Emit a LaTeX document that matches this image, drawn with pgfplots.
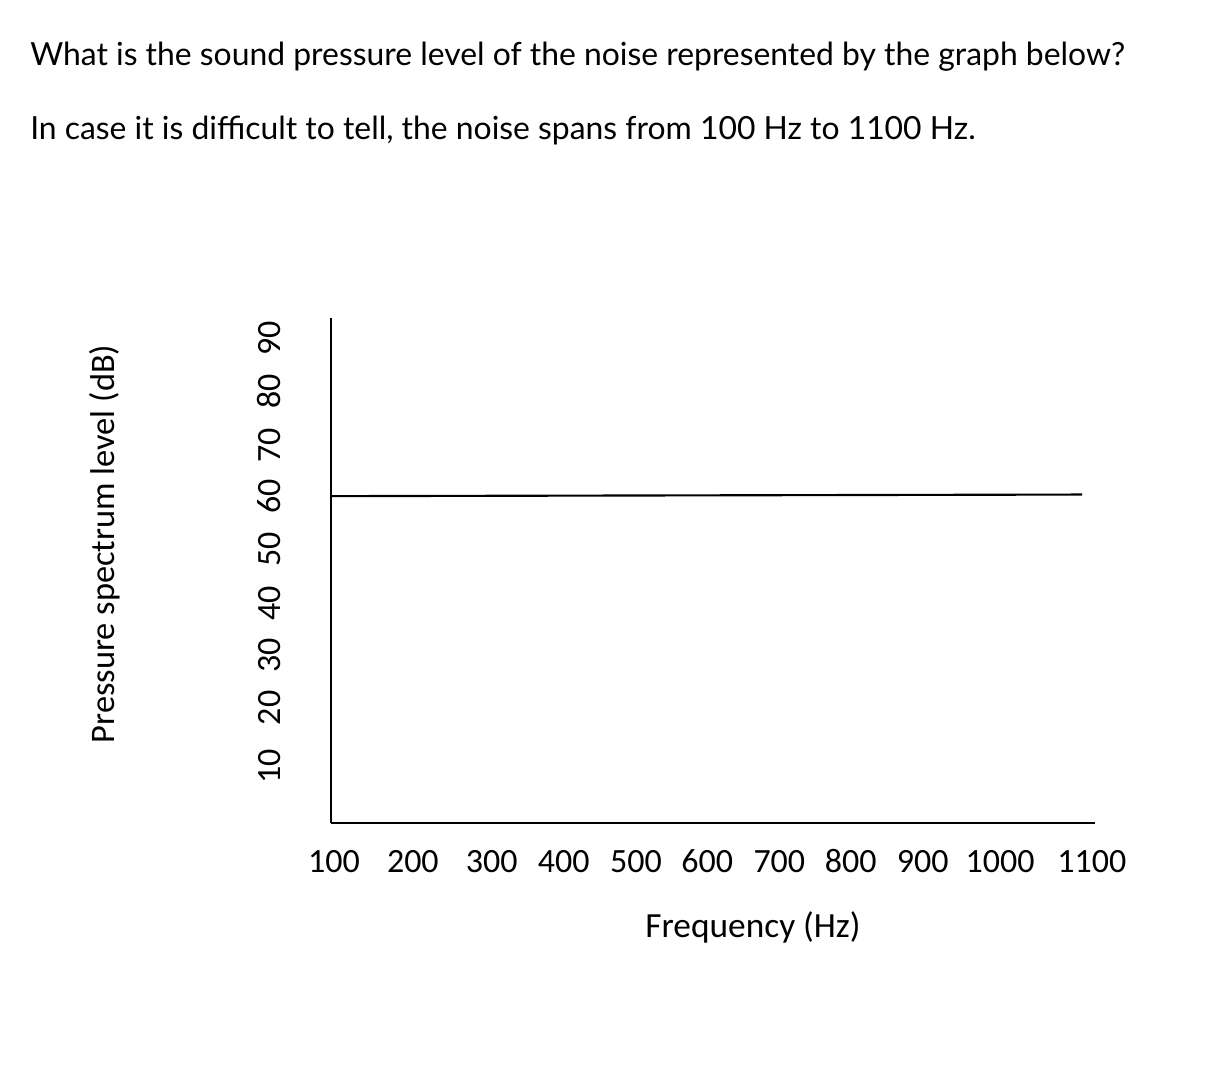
\documentclass[border=0pt]{standalone}
\usepackage{pgfplots}
\pgfplotsset{compat=1.18}
\usepackage{fontspec}
\setmainfont{Carlito}
\newfontfamily\latofont{Lato}
\begin{document}
\begin{tikzpicture}[x=0.75pt,y=-0.75pt]
\path[use as bounding box] (0,0) rectangle (1218,1070);
\node[anchor=base west,inner sep=0pt,font=\latofont\fontsize{23.9pt}{28pt}\selectfont] at (30,66) {What is the sound pressure level of the noise represented by the graph below?};
\node[anchor=base west,inner sep=0pt,font=\latofont\fontsize{23.9pt}{28pt}\selectfont] at (30,140) {In case it is difficult to tell, the noise spans from 100 Hz to 1100 Hz.};
\begin{axis}[
  at={(248.25pt,-617.25pt)}, anchor=south west,
  scale only axis, width=573pt, height=378.75pt,
  xmin=100, xmax=1117.3, ymin=-1.1, ymax=93.3,
  axis x line=bottom, axis y line=left,
  axis line style={-, line width=2pt, black},
  major tick length=0pt,
  xtick={104,209,314,410,506,601,697,792,888,991,1113},
  xticklabels={100,200,300,400,500,600,700,800,900,1000,1100},
  ytick={9.5,20.4,30.3,40,50.1,60,69.5,79.6,89.5},
  yticklabels={10,20,30,40,50,60,70,80,90},
  xticklabel shift=37.1pt, yticklabel shift=37.9pt,
  xticklabel style={anchor=base, inner sep=0pt, font=\fontsize{25.5pt}{28pt}\selectfont},
  yticklabel style={anchor=base, inner sep=0pt, rotate=90, font=\fontsize{25.5pt}{28pt}\selectfont},
  clip=false,
]
\addplot[black, line width=1.6pt] coordinates {(100,60) (1100,60.3)};
\end{axis}
\node[rotate=90,inner sep=0pt,font=\fontsize{25.8pt}{28pt}\selectfont] at (105,544) {Pressure spectrum level (dB)};
\node[inner sep=0pt,font=\fontsize{26.5pt}{30pt}\selectfont] at (753,927) {Frequency (Hz)};
\end{tikzpicture}
\end{document}
